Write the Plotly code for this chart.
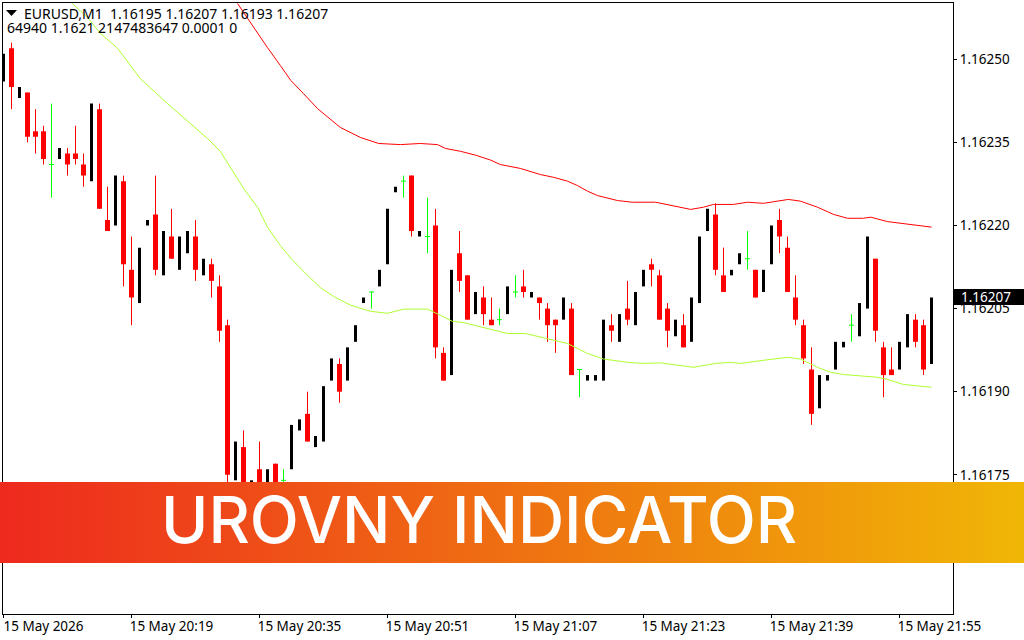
import plotly.graph_objects as go

W, H = 1024, 640
BASE = 1.16

# Prices are stored as points above 1.16000 (252 = 1.16252); x is the minute index from 20:03
opens = [246,252,243,244,237,237,231,232,233,233,
231,228,241,221,220,228,212,206,220,222,
211,218,212,215,218,211,213,209,202,174,
180,170,176,172,177,174,176,183,186,180,
181,192,195,192,199,206,208,209,213,226,
228,229,218,218,220,197,193,215,211,204,
207,203,203,204,208,209,207,207,205,203,
203,205,194,192,192,192,202,199,205,202,
209,213,211,205,200,202,199,206,219,222,
211,211,213,214,212,208,213,221,216,207,
202,194,187,192,194,198,202,200,205,214,
198,194,194,198,203,202,195]
closes = [251,245,245,236,236,232,231,234,231,232,
229,242,223,219,229,213,207,216,221,212,
219,214,218,219,212,214,210,201,175,181,
170,174,172,176,172,174,184,185,181,182,
191,196,190,198,202,207,208,212,223,227,
228,219,219,218,198,192,212,210,203,208,
204,202,203,209,208,208,208,206,202,202,
207,193,194,193,193,203,201,204,203,208,
212,212,203,201,203,198,207,218,223,212,
208,212,215,214,207,212,220,218,208,203,
196,186,193,193,199,199,202,206,218,201,
193,193,199,204,199,194,207]
highs = [251,253,245,244,241,238,242,234,234,238,
233,242,242,227,229,229,218,216,221,229,
219,223,218,219,221,214,214,211,203,181,
183,174,181,176,177,176,184,185,190,182,
191,196,196,198,202,207,208,212,223,227,
229,229,219,225,223,198,212,219,211,208,
209,207,205,209,211,212,208,207,206,203,
207,206,194,193,193,203,204,204,210,208,
212,214,212,206,203,204,207,218,223,224,
216,212,215,219,212,212,220,223,218,211,
203,198,193,193,199,199,204,206,218,214,
199,198,199,204,204,203,207]
lows = [246,241,243,235,233,231,225,232,229,231,
227,228,223,219,220,209,202,206,220,211,
211,214,212,215,210,211,207,199,172,174,
168,170,170,172,172,172,176,183,181,180,
181,192,188,192,199,206,205,209,213,226,
225,218,218,215,196,192,193,208,203,204,
202,202,202,204,207,207,207,203,199,197,
203,193,189,192,192,192,199,199,202,202,
209,209,203,198,200,198,199,206,219,211,
208,211,213,212,207,208,213,215,208,202,
195,184,187,192,194,198,199,200,205,199,
189,193,194,198,198,193,195]

upper_x = [29.25,31.25,33,34.6,35.9,37.5,39.25,42.1,44.6,46.9,49.6,52.1,54.25,55.25,57.1,59,60.9,62.1,64.6,67.1,68.75,70.5,71.75,73,74.25,76.75,78.6,81.5,83.75,85.9,87.5,88.75,91.25,93,95,96.75,98.1,99.6,101.75,103.75,105.5,107.5,108.4,110.5,113,116]
upper_y = [260.08,255.75,252.1,248.9,246.2,243.8,241.1,237.7,235.9,234.8,234.6,234.8,234.6,233.9,233.4,232.7,231.8,231,230.3,229.2,228.7,228,227.2,226.2,225.4,224.5,224.2,224.2,223.5,222.9,223.3,223.8,223.8,224.2,224,224.4,224.7,224.4,223.3,222,221.3,221.3,221.5,220.7,220.2,219.7]
lower_x = [8.6,10.5,12.1,14.25,15.6,17.1,20.5,23.4,25.5,27.1,28.6,30,31.75,33,34.6,35.9,38,39.6,41.25,43.4,45.9,48,50,53,54.6,56.1,57.4,60,63,65.25,68,70.5,73,75,78,80,82.1,84.25,86.25,89,90.9,92.1,94.6,96.25,98.1,99.6,101.75,103.4,105,107.1,109.25,110.5,112.5,116]
lower_y = [260.08,257.55,254.7,252,249.4,246.5,242,238.4,235.7,233.4,229.95,226.7,223.3,219.7,216.4,214.1,211,208.8,207.2,205.6,204.5,204.15,204.9,204.9,203.8,202.7,202.5,201.6,200.5,200.5,199.6,198.7,196.9,195.9,195.3,195.1,195.2,194.8,194.4,195.1,195.3,195.1,195.5,195.9,196.2,195.9,194.4,193.5,193.1,192.8,192.6,192.2,191.3,190.8]

x_ticks = [0,16,32,48,64,80,96,112]
x_labels = ["15 May 2026","15 May 20:19","15 May 20:35","15 May 20:51","15 May 21:07","15 May 21:23","15 May 21:39","15 May 21:55"]
y_ticks = [1.16175,1.16190,1.16205,1.16220,1.16235,1.16250]
header_1 = "EURUSD,M1  1.16195 1.16207 1.16193 1.16207"
header_2 = "64940 1.1621 2147483647 0.0001 0"
last_price = "1.16207"
banner = "UROVNY INDICATOR"

UI_FONT = "Noto Sans"
UI_SIZE = 13.5
HEAD_SIZE = 14
BEAR = "#FF0000"
BULL = "#000000"
DOJI = "#00FF00"

def px(v):
    return BASE + v * 1e-5

N = len(opens)
bull = [i for i in range(N) if closes[i] > opens[i]]
bear = [i for i in range(N) if closes[i] < opens[i]]
doji = [i for i in range(N) if closes[i] == opens[i]]

def body(idx, color, width):
    return go.Bar(x=idx,
                  y=[abs(px(closes[i]) - px(opens[i])) for i in idx],
                  base=[px(min(opens[i], closes[i])) for i in idx],
                  width=width, marker=dict(color=color, line=dict(width=0)),
                  showlegend=False, hoverinfo="skip")

def wicks(idx, color, tick=None):
    t = go.Scatter(x=idx, y=[px(closes[i]) for i in idx], mode="markers",
                   marker=dict(size=1, color=color, opacity=0),
                   error_y=dict(type="data", symmetric=False,
                                array=[px(highs[i]) - px(closes[i]) for i in idx],
                                arrayminus=[px(closes[i]) - px(lows[i]) for i in idx],
                                color=color, thickness=1, width=0),
                   showlegend=False, hoverinfo="skip")
    if tick:
        t.error_x = dict(type="constant", value=tick, color=color, thickness=1, width=0)
    return t

fig = go.Figure()
fig.add_trace(body(bull, BULL, 0.375))
fig.add_trace(body(bear, BEAR, 0.625))
fig.add_trace(wicks(bear, BEAR))
fig.add_trace(wicks(doji, DOJI, tick=0.3125))
fig.add_trace(go.Scatter(x=upper_x, y=[px(v) for v in upper_y], mode="lines",
                         line=dict(color="#FF0000", width=1), showlegend=False))
fig.add_trace(go.Scatter(x=lower_x, y=[px(v) for v in lower_y], mode="lines",
                         line=dict(color="#ADFF2F", width=1), showlegend=False))

# gradient banner
LEFT = (238, 42, 30)
RIGHT = (240, 182, 6)
STEPS = 128
shapes = []
for s in range(STEPS):
    t = s / (STEPS - 1)
    col = tuple(round(a + (b - a) * t) for a, b in zip(LEFT, RIGHT))
    shapes.append(dict(type="rect", xref="paper", yref="paper", layer="above",
                       x0=s / STEPS, x1=min(1, (s + 1.5) / STEPS),
                       y0=1 - 563 / H, y1=1 - 482 / H,
                       fillcolor="rgb(%d,%d,%d)" % col, line=dict(width=0)))
# dropdown triangle in the header
shapes.append(dict(type="path", xref="paper", yref="paper", layer="above",
                   path="M %f,%f L %f,%f L %f,%f Z" % (6/W, 1-10/H, 17/W, 1-10/H, 11.5/W, 1-16/H),
                   fillcolor="#000000", line=dict(width=0)))

ann = [
    dict(text=header_1, x=22/W, y=1-13.5/H, xanchor="left", yanchor="middle",
         font=dict(family=UI_FONT, size=HEAD_SIZE, color="#000000")),
    dict(text=header_2, x=5/W, y=1-27/H, xanchor="left", yanchor="middle",
         font=dict(family=UI_FONT, size=HEAD_SIZE, color="#000000")),
    dict(text=banner, x=479/W, y=1-519/H, xanchor="center", yanchor="middle",
         font=dict(family="Inter", size=64, color="#FFFFFF", weight=500)),
]
for a in ann:
    a.update(xref="paper", yref="paper", showarrow=False)

# price tag
shapes.append(dict(type="rect", xref="paper", yref="paper", layer="above",
                   x0=954/W, x1=1, y0=1-305/H, y1=1-289/H,
                   fillcolor="#000000", line=dict(width=0)))
ann.append(dict(text=last_price, xref="paper", yref="paper", x=958.5/W, y=1-297/H,
                xanchor="left", yanchor="middle", showarrow=False,
                font=dict(family=UI_FONT, size=UI_SIZE, color="#FFFFFF")))

L, R, T, B = 3.0, 953.0, 2.5, 613.5
fig.update_layout(
    width=W, height=H, autosize=False,
    margin=dict(l=0, r=0, t=0, b=0, pad=0),
    paper_bgcolor="#FFFFFF", plot_bgcolor="#FFFFFF",
    showlegend=False, shapes=shapes, annotations=ann, barmode="overlay",
    font=dict(family=UI_FONT, size=UI_SIZE, color="#000000"),
    xaxis=dict(domain=[L/W, R/W], range=[(L-3.5)/8, (R-3.5)/8],
               tickvals=x_ticks, ticktext=x_labels, tickmode="array",
               showgrid=False, zeroline=False, automargin=False,
               showline=True, mirror=True, linecolor="#000000", linewidth=1,
               ticks="outside", ticklen=3, tickcolor="#000000", tickwidth=1,
               ticklabelshift=40, ticklabelstandoff=-3),
    yaxis=dict(domain=[1-B/H, 1-T/H], range=[1.1614996, 1.1626025], side="right",
               tickvals=y_ticks, tickformat=".5f", tickmode="array", automargin=False,
               showgrid=False, zeroline=False,
               showline=True, mirror=True, linecolor="#000000", linewidth=1,
               ticks="outside", ticklen=3, tickcolor="#000000", tickwidth=1),
)
fig.write_html("out.html", config=dict(displayModeBar=False, responsive=False),
               default_width="1024px", default_height="640px",
               post_script="document.body.style.margin='0';document.body.style.overflow='hidden';")
